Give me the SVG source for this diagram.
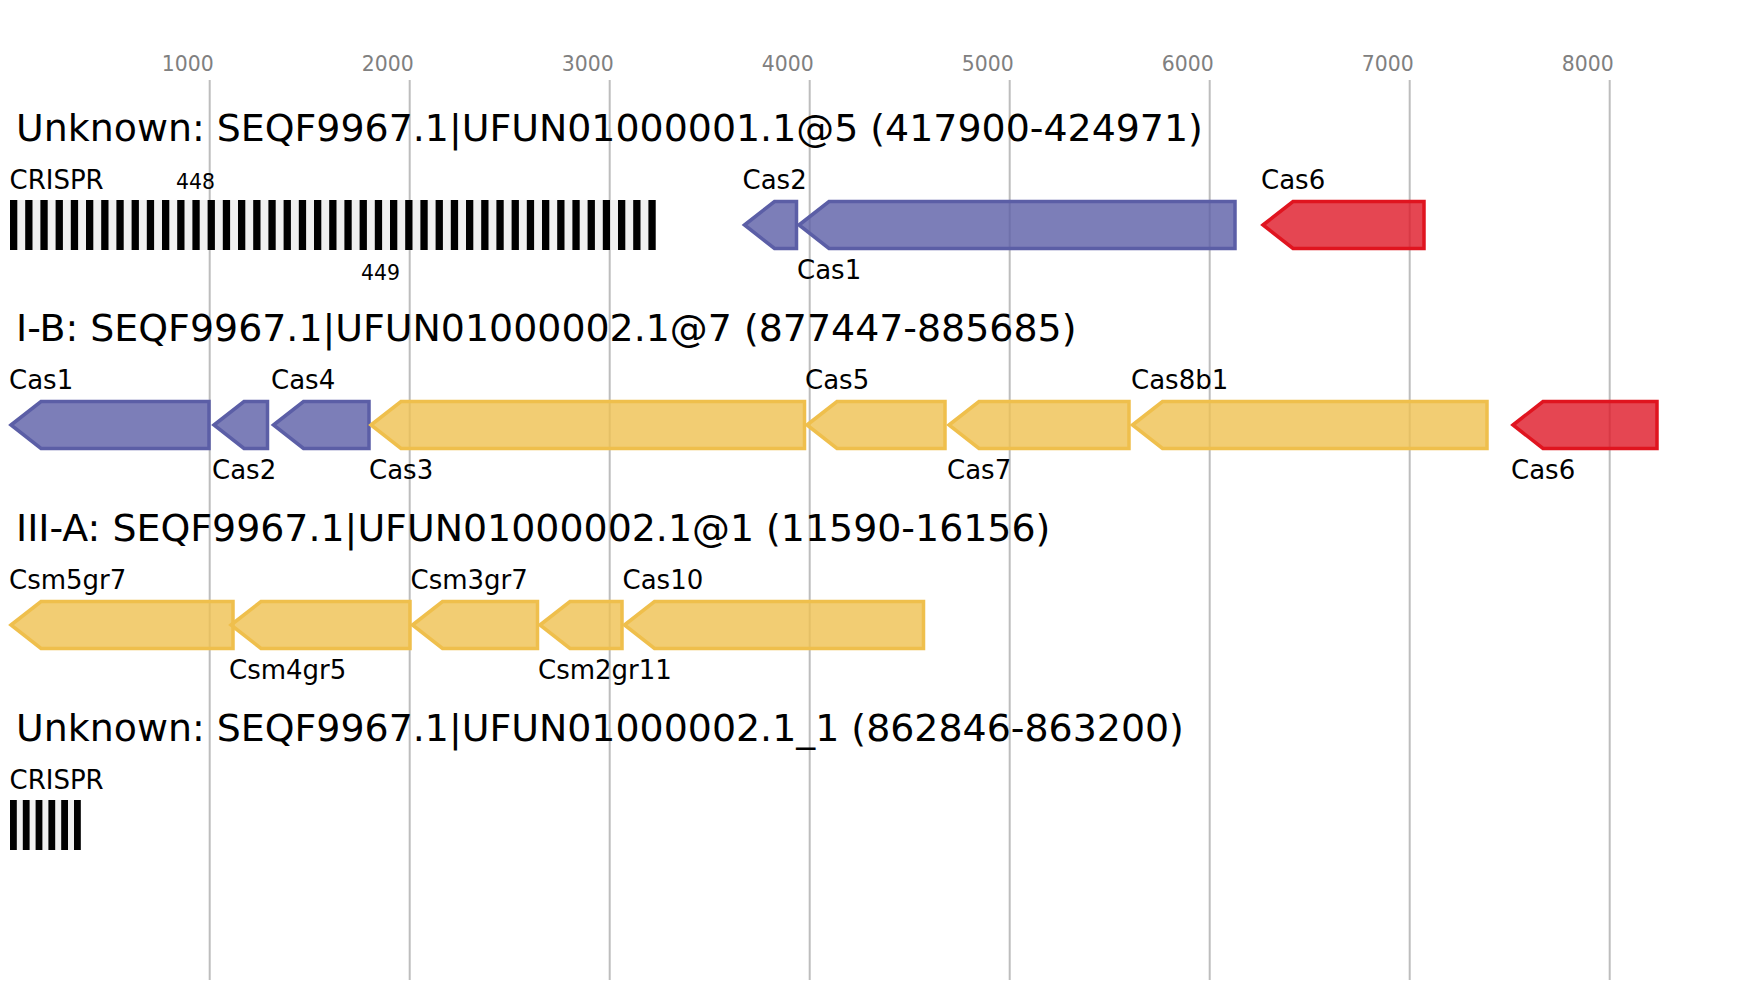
<svg xmlns="http://www.w3.org/2000/svg" width="1748" height="1000" viewBox="0 0 1748 1000">
<style>
text{font-family:"DejaVu Sans","Liberation Sans",sans-serif}
.axis{font-size:20.4px;fill:#808080;text-anchor:middle}
.grid{stroke:#bdbdbd;stroke-width:2}
.title{font-size:37.9px;fill:#000}
.lbl{font-size:26px;fill:#000}
.num{font-size:20.4px;fill:#000}
.blue{fill:#5b5ea6;fill-opacity:0.8;stroke:#5b5ea6;stroke-width:3.5}
.yel{fill:#efc050;fill-opacity:0.8;stroke:#efbf4c;stroke-width:3.5}
.red{fill:#df1827;fill-opacity:0.8;stroke:#e0141f;stroke-width:3.5}
.cbg{fill:#f0f0f0}
.rep{fill:#000}
</style>
<g id="axis">
<line class="grid" x1="209.7" y1="80" x2="209.7" y2="980"/>
<line class="grid" x1="409.7" y1="80" x2="409.7" y2="980"/>
<line class="grid" x1="609.7" y1="80" x2="609.7" y2="980"/>
<line class="grid" x1="809.7" y1="80" x2="809.7" y2="980"/>
<line class="grid" x1="1009.7" y1="80" x2="1009.7" y2="980"/>
<line class="grid" x1="1209.7" y1="80" x2="1209.7" y2="980"/>
<line class="grid" x1="1409.7" y1="80" x2="1409.7" y2="980"/>
<line class="grid" x1="1609.7" y1="80" x2="1609.7" y2="980"/>
<text class="axis" x="187.7" y="71">1000</text>
<text class="axis" x="387.7" y="71">2000</text>
<text class="axis" x="587.7" y="71">3000</text>
<text class="axis" x="787.7" y="71">4000</text>
<text class="axis" x="987.7" y="71">5000</text>
<text class="axis" x="1187.7" y="71">6000</text>
<text class="axis" x="1387.7" y="71">7000</text>
<text class="axis" x="1587.7" y="71">8000</text>
</g>
<g id="titles">
<text class="title" x="16" y="141">Unknown: SEQF9967.1|UFUN01000001.1@5 (417900-424971)</text>
<text class="title" x="16" y="341">I-B: SEQF9967.1|UFUN01000002.1@7 (877447-885685)</text>
<text class="title" x="16" y="541">III-A: SEQF9967.1|UFUN01000002.1@1 (11590-16156)</text>
<text class="title" x="16" y="741">Unknown: SEQF9967.1|UFUN01000002.1_1 (862846-863200)</text>
</g>
<g id="connectors"></g>
<g id="crispr1">
<rect class="cbg" x="10" y="200" width="646" height="50"/>
<g class="rep">
<rect x="10" y="200" width="7.3" height="50"/><rect x="25.2" y="200" width="7.3" height="50"/><rect x="40.4" y="200" width="7.3" height="50"/><rect x="55.6" y="200" width="7.3" height="50"/><rect x="70.8" y="200" width="7.3" height="50"/><rect x="86" y="200" width="7.3" height="50"/><rect x="101.2" y="200" width="7.3" height="50"/><rect x="116.4" y="200" width="7.3" height="50"/><rect x="131.6" y="200" width="7.3" height="50"/><rect x="146.8" y="200" width="7.3" height="50"/>
<rect x="162" y="200" width="7.3" height="50"/><rect x="177.2" y="200" width="7.3" height="50"/><rect x="192.4" y="200" width="7.3" height="50"/><rect x="207.6" y="200" width="7.3" height="50"/><rect x="222.8" y="200" width="7.3" height="50"/><rect x="238" y="200" width="7.3" height="50"/><rect x="253.2" y="200" width="7.3" height="50"/><rect x="268.4" y="200" width="7.3" height="50"/><rect x="283.6" y="200" width="7.3" height="50"/><rect x="298.8" y="200" width="7.3" height="50"/>
<rect x="314" y="200" width="7.3" height="50"/><rect x="329.2" y="200" width="7.3" height="50"/><rect x="344.4" y="200" width="7.3" height="50"/><rect x="359.6" y="200" width="7.3" height="50"/><rect x="374.8" y="200" width="7.3" height="50"/><rect x="390" y="200" width="7.3" height="50"/><rect x="405.2" y="200" width="7.3" height="50"/><rect x="420.4" y="200" width="7.3" height="50"/><rect x="435.6" y="200" width="7.3" height="50"/><rect x="450.8" y="200" width="7.3" height="50"/>
<rect x="466" y="200" width="7.3" height="50"/><rect x="481.2" y="200" width="7.3" height="50"/><rect x="496.4" y="200" width="7.3" height="50"/><rect x="511.6" y="200" width="7.3" height="50"/><rect x="526.8" y="200" width="7.3" height="50"/><rect x="542" y="200" width="7.3" height="50"/><rect x="557.2" y="200" width="7.3" height="50"/><rect x="572.4" y="200" width="7.3" height="50"/><rect x="587.6" y="200" width="7.3" height="50"/><rect x="602.8" y="200" width="7.3" height="50"/>
<rect x="618" y="200" width="7.3" height="50"/><rect x="633.2" y="200" width="7.3" height="50"/><rect x="648.4" y="200" width="7.3" height="50"/>
</g>
<text class="lbl" x="9.5" y="189">CRISPR</text>
<text class="num" x="176" y="189">448</text>
<text class="num" x="361" y="280">449</text>
</g>
<g id="r1-cas2"><polygon class="blue" points="744.5,225 774.5,201.5 796.5,201.5 796.5,248.5 774.5,248.5"/><text class="lbl" x="742.5" y="189">Cas2</text></g>
<g id="r1-cas1"><polygon class="blue" points="799,225 829,201.5 1235,201.5 1235,248.5 829,248.5"/><text class="lbl" x="797" y="279">Cas1</text></g>
<g id="r1-cas6"><polygon class="red" points="1263,225 1293,201.5 1424,201.5 1424,248.5 1293,248.5"/><text class="lbl" x="1261" y="189">Cas6</text></g>

<g id="r2-cas1"><polygon class="blue" points="11,425 41,401.5 209,401.5 209,448.5 41,448.5"/><text class="lbl" x="9" y="389">Cas1</text></g>
<g id="r2-cas2"><polygon class="blue" points="214,425 244,401.5 267.5,401.5 267.5,448.5 244,448.5"/><text class="lbl" x="212" y="479">Cas2</text></g>
<g id="r2-cas4"><polygon class="blue" points="273.5,425 303.5,401.5 369,401.5 369,448.5 303.5,448.5"/><text class="lbl" x="271" y="389">Cas4</text></g>
<g id="r2-cas3"><polygon class="yel" points="371,425 401,401.5 804.5,401.5 804.5,448.5 401,448.5"/><text class="lbl" x="369" y="479">Cas3</text></g>
<g id="r2-cas5"><polygon class="yel" points="807,425 837,401.5 945,401.5 945,448.5 837,448.5"/><text class="lbl" x="805" y="389">Cas5</text></g>
<g id="r2-cas7"><polygon class="yel" points="949,425 979,401.5 1129,401.5 1129,448.5 979,448.5"/><text class="lbl" x="947" y="479">Cas7</text></g>
<g id="r2-cas8b1"><polygon class="yel" points="1132.5,425 1162.5,401.5 1487,401.5 1487,448.5 1162.5,448.5"/><text class="lbl" x="1131" y="389">Cas8b1</text></g>
<g id="r2-cas6"><polygon class="red" points="1513,425 1543,401.5 1657,401.5 1657,448.5 1543,448.5"/><text class="lbl" x="1511" y="479">Cas6</text></g>

<g id="r3-csm5gr7"><polygon class="yel" points="11,625 41,601.5 233,601.5 233,648.5 41,648.5"/><text class="lbl" x="9" y="589">Csm5gr7</text></g>
<g id="r3-csm4gr5"><polygon class="yel" points="231,625 261,601.5 410,601.5 410,648.5 261,648.5"/><text class="lbl" x="229" y="679">Csm4gr5</text></g>
<g id="r3-csm3gr7"><polygon class="yel" points="412.5,625 442.5,601.5 537.5,601.5 537.5,648.5 442.5,648.5"/><text class="lbl" x="410.5" y="589">Csm3gr7</text></g>
<g id="r3-csm2gr11"><polygon class="yel" points="540,625 570,601.5 622,601.5 622,648.5 570,648.5"/><text class="lbl" x="538" y="679">Csm2gr11</text></g>
<g id="r3-cas10"><polygon class="yel" points="624.5,625 654.5,601.5 923.5,601.5 923.5,648.5 654.5,648.5"/><text class="lbl" x="622.5" y="589">Cas10</text></g>

<g id="crispr4">
<rect class="cbg" x="10" y="800" width="71" height="50"/>
<g class="rep">
<rect x="10" y="800" width="6.8" height="50"/><rect x="22.8" y="800" width="6.8" height="50"/><rect x="35.6" y="800" width="6.8" height="50"/><rect x="48.4" y="800" width="6.8" height="50"/><rect x="61.2" y="800" width="6.8" height="50"/><rect x="74" y="800" width="6.8" height="50"/>
</g>
<text class="lbl" x="9.5" y="789">CRISPR</text>
</g>
</svg>
